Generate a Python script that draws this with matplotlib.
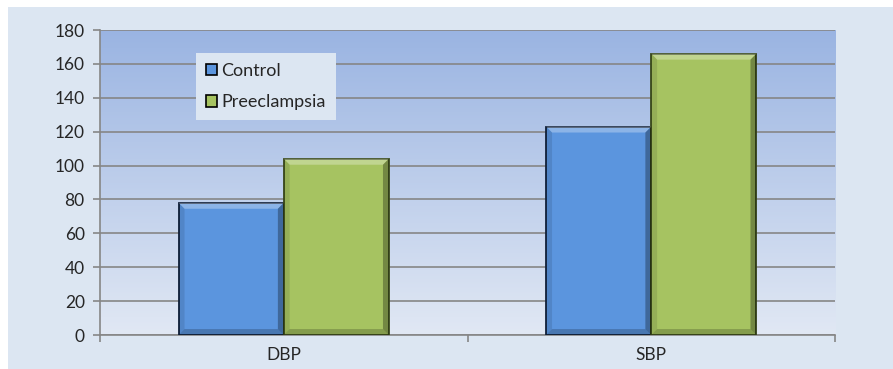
import numpy as np
import matplotlib
matplotlib.use("Agg")
import matplotlib.pyplot as plt
from matplotlib.patches import Rectangle, Polygon
from matplotlib.colors import LinearSegmentedColormap

categories = ["DBP", "SBP"]
series_names = ["Control", "Preeclampsia"]
control = [78, 123]
preeclampsia = [104, 166]
y_ticks = [0, 20, 40, 60, 80, 100, 120, 140, 160, 180]

face_colors = ["#5b95de", "#a6c361"]
edge_colors = ["#10203a", "#3a4a1a"]

plt.rcParams["font.family"] = ["Lato", "DejaVu Sans"]
text_color = "#262626"

fig = plt.figure(figsize=(8.93, 3.69), dpi=100)
fig.patch.set_facecolor("white")
# chart-area panel
fig.add_artist(Rectangle((8 / 893, 0), 1, 1 - 7 / 369,
                         transform=fig.transFigure, facecolor="#dce6f2",
                         edgecolor="none", zorder=-10))

ax = fig.add_axes([100 / 893, 1 - 335 / 369, 735 / 893, 305 / 369])
ax.set_facecolor("none")

# vertical gradient in the plotting area
grad = np.linspace(0, 1, 256).reshape(-1, 1)
cmap = LinearSegmentedColormap.from_list("bg", ["#e1e8f4", "#9ab4e2"])
ax.imshow(grad, aspect="auto", cmap=cmap, origin="lower",
          extent=[-0.5, 1.5, 0, 180], zorder=0)

x = np.arange(len(categories))
width = 0.286
values = [control, preeclampsia]
offsets = [-width / 2, width / 2]

for i, (vals, off) in enumerate(zip(values, offsets)):
    bars = ax.bar(x + off, vals, width, color=face_colors[i],
                  edgecolor=edge_colors[i], linewidth=1.3, zorder=3,
                  label=series_names[i])
    # bevel shading on each bar
    for b in bars:
        x0, y0 = b.get_x(), b.get_y()
        w, h = b.get_width(), b.get_height()
        bx = 0.016
        by = 3.5
        top = Polygon([[x0, y0 + h], [x0 + w, y0 + h], [x0 + w - bx, y0 + h - by],
                       [x0 + bx, y0 + h - by]], closed=True,
                      facecolor="white", alpha=0.3, edgecolor="none", zorder=4)
        right = Polygon([[x0 + w, y0 + h], [x0 + w, y0], [x0 + w - bx, y0 + by],
                         [x0 + w - bx, y0 + h - by]], closed=True,
                        facecolor="black", alpha=0.3, edgecolor="none", zorder=4)
        bottom = Polygon([[x0, y0], [x0 + w, y0], [x0 + w - bx, y0 + by],
                          [x0 + bx, y0 + by]], closed=True,
                         facecolor="black", alpha=0.2, edgecolor="none", zorder=4)
        left = Polygon([[x0, y0], [x0, y0 + h], [x0 + bx, y0 + h - by],
                        [x0 + bx, y0 + by]], closed=True,
                       facecolor="black", alpha=0.1, edgecolor="none", zorder=4)
        for p in (top, right, bottom, left):
            ax.add_patch(p)

ax.set_xlim(-0.5, 1.5)
ax.set_ylim(0, 180)
ax.set_yticks(y_ticks)
ax.yaxis.grid(True, color="#868686", linewidth=1.2, zorder=1)
ax.set_axisbelow(True)

ax.set_xticks(x)
ax.set_xticklabels(categories, fontsize=12.5, color=text_color)
ax.set_xticks([-0.5, 0.5, 1.5], minor=True)
ax.tick_params(axis="x", which="major", length=0, pad=9)
ax.tick_params(axis="x", which="minor", length=5, color="#868686", width=1.2)
ax.tick_params(axis="y", length=5, color="#868686", width=1.2, labelsize=12.5,
               labelcolor=text_color, pad=6)

for s in ["top", "right"]:
    ax.spines[s].set_visible(False)
for s in ["left", "bottom"]:
    ax.spines[s].set_color("#868686")
    ax.spines[s].set_linewidth(1.2)

leg = ax.legend(loc="upper left", bbox_to_anchor=(96 / 735, 1 - 23 / 305),
                frameon=True, fontsize=13, handlelength=0.6, handleheight=0.6,
                handletextpad=0.25, labelspacing=0.85, borderpad=0.55,
                fancybox=False, borderaxespad=0)
leg.get_frame().set_facecolor("#dce6f2")
leg.get_frame().set_edgecolor("none")
leg.get_frame().set_alpha(1)
leg.set_zorder(10)
for t in leg.get_texts():
    t.set_color(text_color)
for h in leg.legend_handles:
    h.set_edgecolor("black")
    h.set_linewidth(1.2)

fig.savefig("out.png", dpi=100)
